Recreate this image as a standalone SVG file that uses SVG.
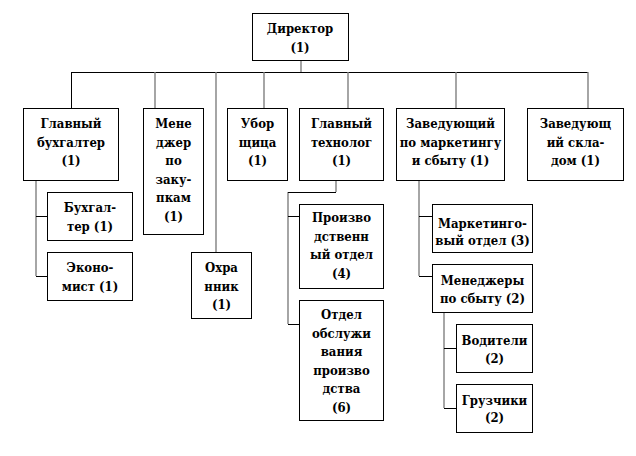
<svg xmlns="http://www.w3.org/2000/svg" width="636" height="456" viewBox="0 0 636 456">
<style>
.box{fill:#fff;stroke:#000;stroke-width:1}
.k{stroke:#000;stroke-width:1;fill:none}
.g{stroke:#808080;stroke-width:1.4;fill:none}
.t{font-family:'DejaVu Serif Condensed','DejaVu Serif','Liberation Serif',serif;font-stretch:condensed;font-weight:700;font-size:13px;text-anchor:middle;fill:#000}
</style>
<rect width="636" height="456" fill="#fff"/>
<g id="connectors">
<path class="k" d="M71,72.5H588"/>
<path class="g" d="M301,60V72 M155,72V108 M216,72V252 M264,72V108 M348,72V108 M456,72V108 M588,72V108"/>
<path class="k" d="M71.5,72V108"/>
<path class="g" d="M36,180V276"/>
<path class="k" d="M36,216.5H47 M36,276.5H47"/>
<path class="g" d="M336,180V192 M288,192V324"/>
<path class="k" d="M288,192.5H336 M288,216.5H299 M288,324.5H299"/>
<path class="g" d="M419,180V276"/>
<path class="k" d="M419,216.5H432 M419,276.5H432"/>
<path class="g" d="M444,312V408"/>
<path class="k" d="M444,348.5H456 M444,408.5H456"/>
</g>
<g class="t">
<g id="director"><rect class="box" x="252.5" y="13.5" width="96" height="47"/>
<text x="300" y="33">Директор</text><text x="300" y="51.5">(1)</text></g>
<g id="chief-accountant"><rect class="box" x="23.5" y="108.5" width="95" height="72"/>
<text x="71" y="128">Главный</text><text x="71" y="146.5">бухгалтер</text><text x="71" y="165">(1)</text></g>
<g id="purchase-manager"><rect class="box" x="143.5" y="108.5" width="60" height="126"/>
<text x="173.5" y="128">Мене</text><text x="173.5" y="146.5">джер</text><text x="173.5" y="165">по</text><text x="173.5" y="183.5">заку-</text><text x="173.5" y="202">пкам</text><text x="173.5" y="220.5">(1)</text></g>
<g id="guard"><rect class="box" x="191.5" y="252.5" width="60" height="66"/>
<text x="221.5" y="272">Охра</text><text x="221.5" y="290.5">нник</text><text x="221.5" y="309">(1)</text></g>
<g id="cleaner"><rect class="box" x="227.5" y="108.5" width="60" height="72"/>
<text x="257.5" y="128">Убор</text><text x="257.5" y="146.5">щица</text><text x="257.5" y="165">(1)</text></g>
<g id="chief-technologist"><rect class="box" x="299.5" y="108.5" width="84" height="72"/>
<text x="341.5" y="128">Главный</text><text x="341.5" y="146.5">технолог</text><text x="341.5" y="165">(1)</text></g>
<g id="marketing-head"><rect class="box" x="396.5" y="108.5" width="108" height="72"/>
<text x="450.5" y="128">Заведующий</text><text x="450.5" y="146.5">по маркетингу</text><text x="450.5" y="165">и сбыту (1)</text></g>
<g id="warehouse-head"><rect class="box" x="527.5" y="108.5" width="96" height="72"/>
<text x="575.5" y="128">Заведующ</text><text x="575.5" y="146.5">ий скла-</text><text x="575.5" y="165">дом (1)</text></g>
<g id="accountant"><rect class="box" x="47.5" y="192.5" width="85" height="48"/>
<text x="90" y="212">Бухгал-</text><text x="90" y="230.5">тер (1)</text></g>
<g id="economist"><rect class="box" x="47.5" y="252.5" width="85" height="48"/>
<text x="90" y="272">Эконо-</text><text x="90" y="290.5">мист (1)</text></g>
<g id="production-dept"><rect class="box" x="299.5" y="204.5" width="84" height="84"/>
<text x="341.5" y="222">Произво</text><text x="341.5" y="240.5">дственн</text><text x="341.5" y="259">ый отдел</text><text x="341.5" y="277.5">(4)</text></g>
<g id="service-dept"><rect class="box" x="299.5" y="300.5" width="84" height="120"/>
<text x="341.5" y="319">Отдел</text><text x="341.5" y="337.5">обслужи</text><text x="341.5" y="356">вания</text><text x="341.5" y="374.5">произво</text><text x="341.5" y="393">дства</text><text x="341.5" y="411.5">(6)</text></g>
<g id="marketing-dept"><rect class="box" x="432.5" y="204.5" width="100" height="48"/>
<text x="482.5" y="228">Маркетинго-</text><text x="482.5" y="245">вый отдел (3)</text></g>
<g id="sales-managers"><rect class="box" x="432.5" y="264.5" width="100" height="48"/>
<text x="482.5" y="285">Менеджеры</text><text x="482.5" y="303">по сбыту (2)</text></g>
<g id="drivers"><rect class="box" x="456.5" y="324.5" width="76" height="48"/>
<text x="494.5" y="345">Водители</text><text x="494.5" y="363">(2)</text></g>
<g id="loaders"><rect class="box" x="456.5" y="384.5" width="76" height="48"/>
<text x="494.5" y="405">Грузчики</text><text x="494.5" y="422">(2)</text></g>
</g>
</svg>
